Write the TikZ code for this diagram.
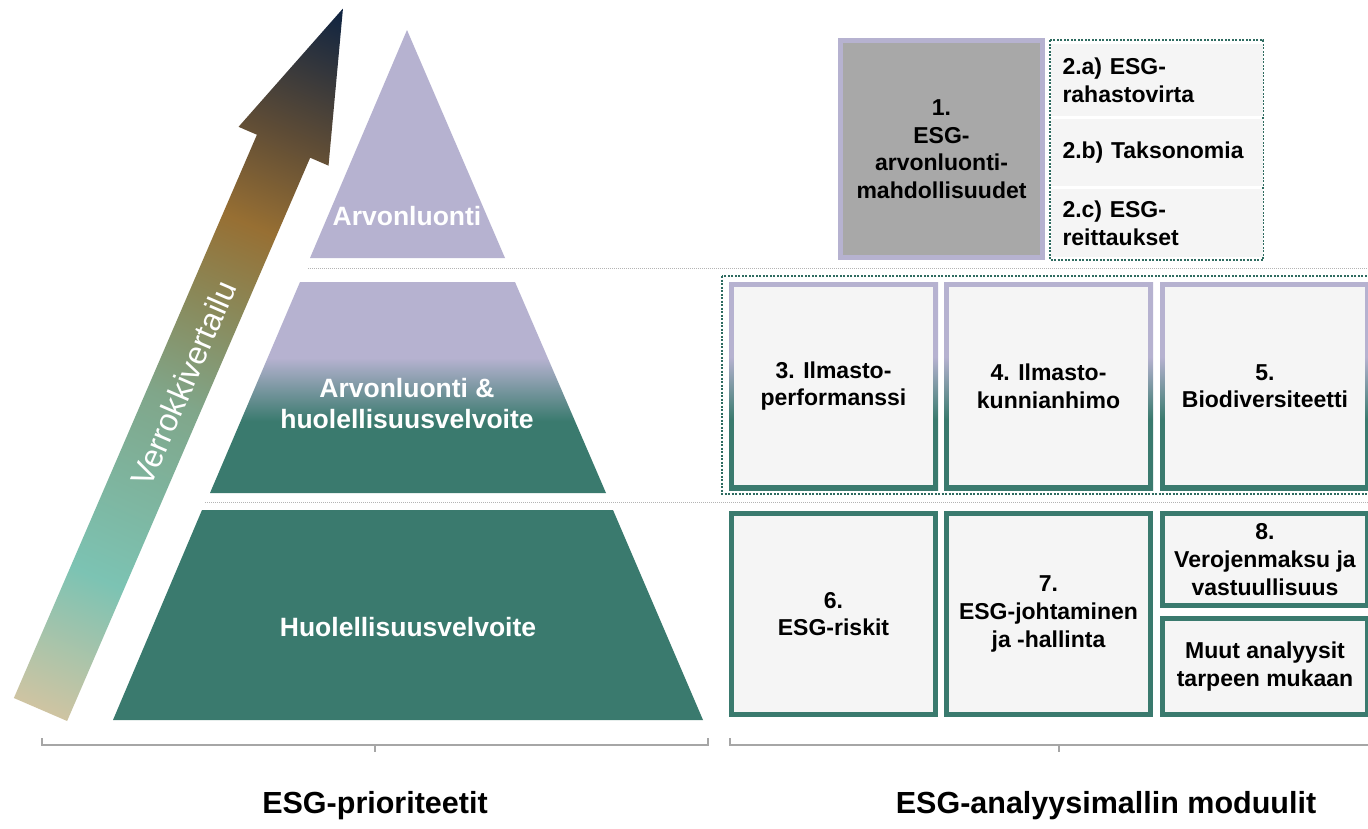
\documentclass[tikz,border=0pt]{standalone}
\usepackage{fontspec}
\setmainfont{Liberation Sans}
\usetikzlibrary{calc}

\definecolor{lav}{HTML}{B6B2D0}
\definecolor{tealc}{HTML}{3A7A6E}
\definecolor{boxfill}{HTML}{F5F5F5}
\definecolor{greybox}{HTML}{A8A8A8}
\definecolor{dotteal}{HTML}{2E6B60}
\definecolor{sepgrey}{HTML}{B4B4B4}
\definecolor{brgrey}{HTML}{A6A6A6}
\definecolor{aa}{HTML}{CFC4A2}
\definecolor{ab}{HTML}{7CC3B3}
\definecolor{ac}{HTML}{80A68A}
\definecolor{ad}{HTML}{8A8858}
\definecolor{ae}{HTML}{976F33}
\definecolor{af}{HTML}{5E4C36}
\definecolor{ag}{HTML}{0E2341}

\pgfdeclareverticalshading{arrowshade}{100bp}{color(0bp)=(aa); color(25bp)=(aa); color(34.4bp)=(ab); color(47bp)=(ac); color(54bp)=(ad); color(59.6bp)=(ae); color(66bp)=(af); color(75bp)=(ag); color(100bp)=(ag)}
\pgfdeclareverticalshading{midshade}{100bp}{color(0bp)=(tealc); color(42bp)=(tealc); color(57bp)=(lav); color(100bp)=(lav)}

\tikzset{
  ptext/.style={text=white, font=\bfseries\fontsize{26.5}{31}\selectfont, align=center, inner sep=0pt},
  btext/.style={font=\bfseries\fontsize{23}{27.6}\selectfont, align=center, text=black},
  sepline/.style={draw=sepgrey, line width=1pt, dash pattern=on 1pt off 1pt},
  dotbox/.style={draw=dotteal, line width=2pt, dash pattern=on 2pt off 1.5pt},
  tealbox/.style={btext, draw=tealc, line width=5pt, fill=boxfill, inner sep=0pt},
  innerbox/.style={btext, fill=boxfill, inner sep=0pt},
  rowbox/.style={btext, fill=boxfill, align=left, inner xsep=12pt, inner ysep=0pt, text width=188pt, minimum width=212pt},
  bracket/.style={draw=brgrey, line width=1.2pt},
  title/.style={font=\bfseries\fontsize{30.5}{36}\selectfont, text=black}
}

\begin{document}
\begin{tikzpicture}[x=1pt,y=-1pt]
\useasboundingbox (0,0) rectangle (1368,828);
\fill[white] (0,0) rectangle (1368,828);

% rising arrow
\begin{scope}[transform canvas={shift={(40.5,709.5)},rotate=-23.34}]
  \shade[shading=arrowshade] (-29,0) -- (29,0) -- (29,-613.5) -- (49,-613.5) -- (0,-763.5) -- (-49,-613.5) -- (-29,-613.5) -- cycle;
  \node[text=white, font=\fontsize{32}{38}\selectfont, rotate=90, inner sep=0pt] (verr) at (2,-356) {Verrokkivertailu};
\end{scope}

% pyramid
\fill[lav] (407,30) -- (505,258) -- (310,258) -- cycle;
\shade[shading=midshade] (300,282) -- (515,282) -- (606,493) -- (210,493) -- cycle;
\fill[tealc] (202,510) -- (613,510) -- (703,720) -- (113,720) -- cycle;
\node[ptext] (p1) at (407,216) {Arvonluonti};
\node[ptext] (p2) at (407,404) {Arvonluonti \&\\huolellisuusvelvoite};
\node[ptext] (p3) at (408,627) {Huolellisuusvelvoite};

% separators
\draw[sepline] (308,268) -- (1368,268);
\draw[sepline] (205,502) -- (1368,502);

% top modules
\node[btext, draw=lav, line width=5pt, fill=greybox, inner sep=0pt, minimum width=202pt, minimum height=217pt] (b1) at (941.5,149) {1.\\ESG-\\arvonluonti-\\mahdollisuudet};
\draw[dotbox] (1050,40) rectangle (1263,260);
\node[rowbox, minimum height=72pt] (b2a) at (1156.5,80) {2.a) ESG-\\rahastovirta};
\node[rowbox, minimum height=67pt] (b2b) at (1156.5,152.5) {2.b) Taksonomia};
\node[rowbox, minimum height=68pt] (b2c) at (1156.5,223) {2.c) ESG-\\reittaukset};

% middle modules
\draw[dotbox] (722,276) rectangle (1374,494);
\shade[shading=midshade] (729,282) rectangle (938,490);
\shade[shading=midshade] (944,282) rectangle (1153,490);
\shade[shading=midshade] (1160,282) rectangle (1370,490);
\node[innerbox, minimum width=199pt, minimum height=198pt] (b3) at (833.5,386) {3. Ilmasto-\\performanssi};
\node[innerbox, minimum width=199pt, minimum height=198pt] (b4) at (1048.5,386) {4. Ilmasto-\\kunnianhimo};
\node[innerbox, minimum width=200pt, minimum height=198pt] (b5) at (1265,386) {5.\\Biodiversiteetti};

% bottom modules
\node[tealbox, minimum width=204pt, minimum height=201pt] (b6) at (833.5,614) {6.\\ESG-riskit};
\node[tealbox, minimum width=204pt, minimum height=201pt] (b7) at (1048.5,614) {7.\\ESG-johtaminen\\ja -hallinta};
\node[tealbox, minimum width=205pt, minimum height=92pt] (b8) at (1265,559.5) {8.\\Verojenmaksu ja\\vastuullisuus};
\node[tealbox, minimum width=205pt, minimum height=96pt] (b9) at (1265,666.5) {Muut analyysit\\tarpeen mukaan};

% brackets
\coordinate (lb1) at (42,738);
\coordinate (lb2) at (708,738);
\coordinate (lbm) at (375,752);
\draw[bracket] (lb1) -- (42,745) -- (708,745) -- (lb2);
\draw[bracket] (375,745) -- (lbm);
\coordinate (rb1) at (730,738);
\coordinate (rbm) at (1059,752);
\draw[bracket] (rb1) -- (730,745) -- (1370,745);
\draw[bracket] (1059,745) -- (rbm);

% titles
\node[title] (t1) at (375,806) {ESG-prioriteetit};
\node[title] (t2) at (1106,806) {ESG-analyysimallin moduulit};
\end{tikzpicture}
\end{document}
